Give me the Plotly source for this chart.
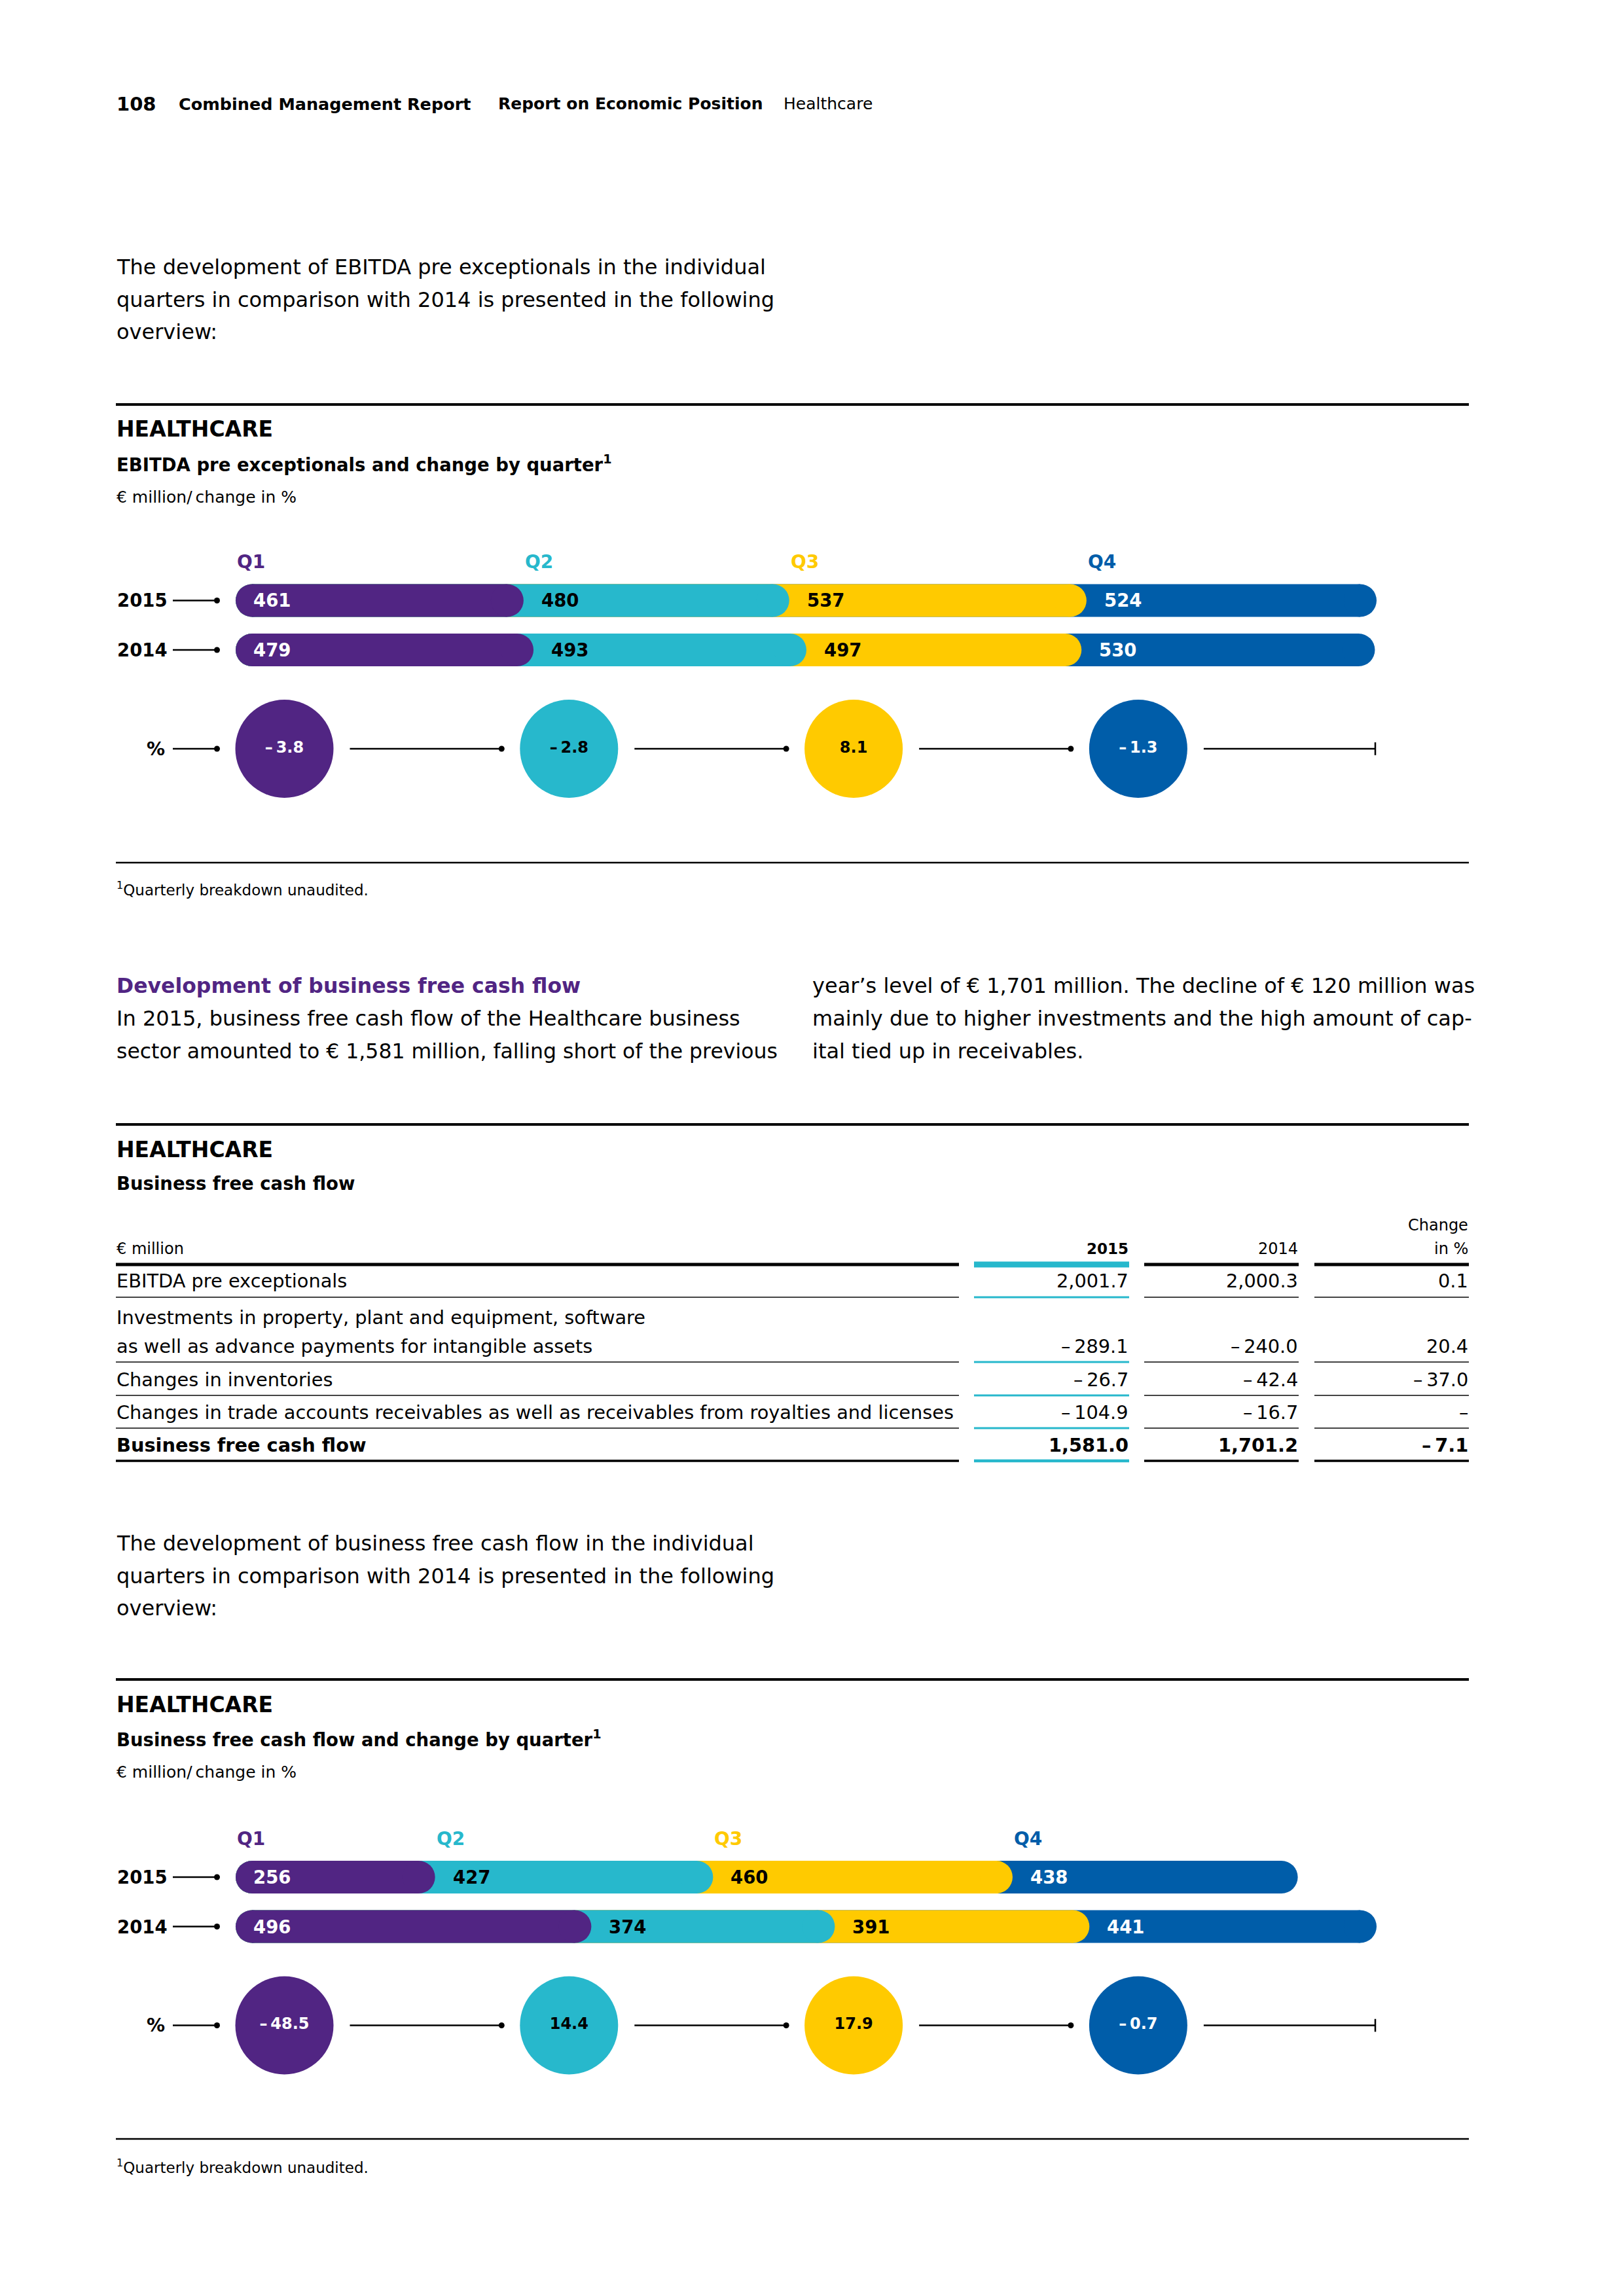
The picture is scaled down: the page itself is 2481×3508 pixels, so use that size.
import plotly.graph_objects as go

W, H = 2481, 3508
FONT = "DejaVu Sans"

# ---------------- data ----------------
QUARTERS = ["Q1", "Q2", "Q3", "Q4"]
YEARS = ["2015", "2014"]

EBITDA_2015 = [461, 480, 537, 524]
EBITDA_2014 = [479, 493, 497, 530]
EBITDA_CHANGE = [-3.8, -2.8, 8.1, -1.3]

BFCF_2015 = [256, 427, 460, 438]
BFCF_2014 = [496, 374, 391, 441]
BFCF_CHANGE = [-48.5, 14.4, 17.9, -0.7]

TABLE_LABELS = [
    ["EBITDA pre exceptionals"],
    ["Investments in property, plant and equipment, software",
     "as well as advance payments for intangible assets"],
    ["Changes in inventories"],
    ["Changes in trade accounts receivables as well as receivables from royalties and licenses"],
    ["Business free cash flow"],
]
TABLE_2015 = [2001.7, -289.1, -26.7, -104.9, 1581.0]
TABLE_2014 = [2000.3, -240.0, -42.4, -16.7, 1701.2]
TABLE_CHANGE = [0.1, 20.4, -37.0, None, -7.1]

INTRO_1 = ["The development of EBITDA pre exceptionals in the individual",
           "quarters in comparison with 2014 is presented in the following",
           "overview:"]
LEFT_COL = ["In 2015, business free cash flow of the Healthcare business",
            "sector amounted to € 1,581 million, falling short of the previous"]
RIGHT_COL = ["year’s level of € 1,701 million. The decline of € 120 million was",
             "mainly due to higher investments and the high amount of cap-",
             "ital tied up in receivables."]
INTRO_2 = ["The development of business free cash flow in the individual",
           "quarters in comparison with 2014 is presented in the following",
           "overview:"]

# ---------------- style ----------------
PURPLE = "#512583"
CYAN = "#27B8CC"
COLORS = [PURPLE, CYAN, "#FFCA00", "#005DA9"]
INK = ["white", "black", "black", "white"]
GREY = "#444444"
BODY = 32

ROW = 75.5                      # px between bar rows
BAR_X0, BAR_X1 = 385, 2078      # px span of the value scale
CIRC_X0, CIRC_X1 = 264, 2101    # px span of the circle row axis
CIRC_C, CIRC_STEP = 434.5, 434.8

fig = go.Figure()
ann, shapes, axes = [], [], {}


def X(x):
    return x / W


def Y(y):
    return 1 - y / H


def text(x, y, s, size, bold=False, color="black", anchor="left"):
    ann.append(dict(xref="paper", yref="paper", x=X(x), y=Y(y), text=s, showarrow=False,
                    xanchor=anchor, yanchor="middle", borderpad=0,
                    font=dict(family=FONT, size=size, color=color,
                              weight="bold" if bold else "normal")))


def rule(x0, x1, y, width, color="black"):
    shapes.append(dict(type="line", xref="paper", yref="paper", x0=X(x0), x1=X(x1),
                       y0=Y(y), y1=Y(y), line=dict(color=color, width=width)))


def pct(v):
    return ("–\u2009" if v < 0 else "") + f"{abs(v):.1f}"


def num(v):
    if v is None:
        return "–"
    return ("–\u2009" if v < 0 else "") + f"{abs(v):,.1f}"


def cumulative(vals):
    ends, s = [], 0
    for v in vals:
        s += v
        ends.append(s)
    return [0] + ends[:-1], ends


def axname(ref):
    return ref[0] + "axis" + ref[1:]


def quarter_chart(k, top, v2015, v2014, change):
    xb = "x" if k == 0 else f"x{2 * k + 1}"
    xc = f"x{2 * k + 2}"
    ya = "y" if k == 0 else f"y{k + 1}"
    total = max(sum(v2015), sum(v2014))
    lo = (CIRC_X0 - CIRC_C) / CIRC_STEP
    hi = (CIRC_X1 - CIRC_C) / CIRC_STEP
    axes[axname(xb)] = dict(domain=[X(BAR_X0), X(BAR_X1)], range=[0, total], anchor=ya, visible=False)
    axes[axname(xc)] = dict(domain=[X(CIRC_X0), X(CIRC_X1)], range=[lo, hi], anchor=ya, visible=False)
    axes[axname(ya)] = dict(domain=[Y(top + 3.5 * ROW), Y(top - 1.2 * ROW)], range=[3.5, -1.2],
                            anchor=xb, visible=False)

    # stacked pills, longest first so the earlier quarter sits on top
    for r, vals in enumerate([v2015, v2014]):
        starts, ends = cumulative(vals)
        for i in reversed(range(len(vals))):
            fig.add_trace(go.Scatter(
                x=[0, ends[i]], y=[r, r], mode="lines+markers", xaxis=xb, yaxis=ya,
                line=dict(color=COLORS[i], width=50),
                marker=dict(size=50, color=COLORS[i], line=dict(width=0)),
                cliponaxis=False, hoverinfo="skip", showlegend=False))
        for i, v in enumerate(vals):
            ann.append(dict(xref=xb, yref=ya, x=starts[i], y=r, text=str(v), showarrow=False,
                            xanchor="left", yanchor="middle", xshift=0 if i == 0 else 50,
                            font=dict(family=FONT, size=27.5, color=INK[i], weight="bold")))
        ann.append(dict(xref="paper", yref=ya, x=X(177), y=r, text=YEARS[r], showarrow=False,
                        xanchor="left", yanchor="middle",
                        font=dict(family=FONT, size=27.5, color="black", weight="bold")))

    starts, _ = cumulative(v2015)
    for i, q in enumerate(QUARTERS):
        ann.append(dict(xref=xb, yref=ya, x=starts[i], y=-0.78, text=q, showarrow=False,
                        xanchor="left", yanchor="middle", xshift=-25 if i == 0 else 25,
                        font=dict(family=FONT, size=28, color=COLORS[i], weight="bold")))
    ann.append(dict(xref="paper", yref=ya, x=X(254), y=3, text="%", showarrow=False,
                    xanchor="right", yanchor="middle",
                    font=dict(family=FONT, size=28, color="black", weight="bold")))

    # connector lines
    gl, gr = 100 / CIRC_STEP, 103 / CIRC_STEP
    lx, ly, dx, dy = [], [], [], []
    for r in (0, 1, 3):
        lx += [lo, -gr, None]
        ly += [r, r, None]
        dx.append(-gr)
        dy.append(r)
    n = len(change)
    for i in range(n - 1):
        lx += [i + gl, i + 1 - gr, None]
        ly += [3, 3, None]
        dx.append(i + 1 - gr)
        dy.append(3)
    lx += [n - 1 + gl, hi]
    ly += [3, 3]
    fig.add_trace(go.Scatter(x=lx, y=ly, mode="lines", xaxis=xc, yaxis=ya,
                             line=dict(color="black", width=2.5), cliponaxis=False,
                             hoverinfo="skip", showlegend=False))
    fig.add_trace(go.Scatter(x=dx, y=dy, mode="markers", xaxis=xc, yaxis=ya,
                             marker=dict(size=9, color="black"), cliponaxis=False,
                             hoverinfo="skip", showlegend=False))
    fig.add_trace(go.Scatter(x=[hi], y=[3], mode="markers", xaxis=xc, yaxis=ya,
                             marker=dict(symbol="line-ns", size=14, line=dict(width=2.5, color="black")),
                             cliponaxis=False, hoverinfo="skip", showlegend=False))

    # change circles
    fig.add_trace(go.Scatter(
        x=list(range(n)), y=[3] * n, mode="markers+text", xaxis=xc, yaxis=ya,
        marker=dict(size=150, color=COLORS, line=dict(width=0)),
        text=[pct(v) for v in change], textposition="middle center",
        textfont=dict(family=FONT, size=24, color=INK, weight="bold"),
        cliponaxis=False, hoverinfo="skip", showlegend=False))


def section_head(y_rule, subtitle, units=True):
    rule(177, 2244, y_rule, 4)
    text(177, y_rule + 38, "HEALTHCARE", 33, bold=True)
    text(177, y_rule + 90, subtitle, 27.5, bold=True)
    if units:
        text(177, y_rule + 141, "€ million/\u2009change in %", 25)


# ---------------- page header ----------------
text(177, 159, "108", 29, bold=True)
text(272, 159, "Combined Management Report", 25.5, bold=True)
text(760, 159, "Report on Economic Position", 25, bold=True)
text(1196, 159, "Healthcare", 25)

for j, line in enumerate(INTRO_1):
    text(177, 408 + 49.5 * j, line, BODY)

# ---------------- chart 1 ----------------
section_head(618, "EBITDA pre exceptionals and change by quarter<sup>1</sup>")
quarter_chart(0, 917.5, EBITDA_2015, EBITDA_2014, EBITDA_CHANGE)
rule(177, 2244, 1318, 2.5)
text(177, 1358, "<sup>1</sup>Quarterly breakdown unaudited.", 23)

# ---------------- free cash flow text ----------------
text(177, 1506, "Development of business free cash flow", 31.5, bold=True, color=PURPLE)
for j, line in enumerate(LEFT_COL):
    text(177, 1556 + 50 * j, line, BODY if j == 0 else 31.5)
for j, line in enumerate(RIGHT_COL):
    text(1240, 1506 + 50 * j, line, BODY)

# ---------------- table ----------------
section_head(1718, "Business free cash flow", units=False)
COL_L = (177, 1465)
COL_2015 = (1488, 1725)
COL_2014 = (1748, 1984)
COL_CHG = (2008, 2244)
text(177, 1908, "€ million", 24)
text(COL_2015[1], 1908, "2015", 23, bold=True, anchor="right")
text(COL_2014[1], 1908, "2014", 24, anchor="right")
text(COL_CHG[1], 1872, "Change", 24, anchor="right")
text(COL_CHG[1], 1908, "in %", 24, anchor="right")
rule(*COL_L, 1932, 5)
rule(*COL_2015, 1932, 9, CYAN)
rule(*COL_2014, 1932, 5)
rule(*COL_CHG, 1932, 5)

ROW_Y = [1957, 2057, 2108, 2158, 2208]
LINE_Y = [1982, 2081, 2132, 2182, 2232]
for r, labels in enumerate(TABLE_LABELS):
    bold = r == len(TABLE_LABELS) - 1
    y = ROW_Y[r]
    for j, lab in enumerate(labels):
        text(177, y - 44 * (len(labels) - 1 - j), lab, 28.8, bold=bold)
    text(COL_2015[1], y, num(TABLE_2015[r]), 28.8, bold=bold, anchor="right")
    text(COL_2014[1], y, num(TABLE_2014[r]), 28.8, bold=bold, anchor="right")
    text(COL_CHG[1], y, num(TABLE_CHANGE[r]), 28.8, bold=bold, anchor="right")
    w, wc = (3.5, 4.5) if bold else (2, 3)
    col = "black" if bold else GREY
    rule(*COL_L, LINE_Y[r], w, col)
    rule(*COL_2015, LINE_Y[r], wc, CYAN)
    rule(*COL_2014, LINE_Y[r], w, col)
    rule(*COL_CHG, LINE_Y[r], w, col)

for j, line in enumerate(INTRO_2):
    text(177, 2358 + 49.5 * j, line, BODY)

# ---------------- chart 2 ----------------
section_head(2566, "Business free cash flow and change by quarter<sup>1</sup>")
quarter_chart(1, 2868, BFCF_2015, BFCF_2014, BFCF_CHANGE)
rule(177, 2244, 3268, 2.5)
text(177, 3310, "<sup>1</sup>Quarterly breakdown unaudited.", 23)

fig.update_layout(
    width=W, height=H,
    margin=dict(l=0, r=0, t=0, b=0),
    paper_bgcolor="white", plot_bgcolor="rgba(0,0,0,0)",
    showlegend=False,
    font=dict(family=FONT),
    annotations=ann, shapes=shapes,
    **axes,
)

fig.write_html("out.html", config={"displayModeBar": False},
               post_script="document.body.style.margin='0';")
